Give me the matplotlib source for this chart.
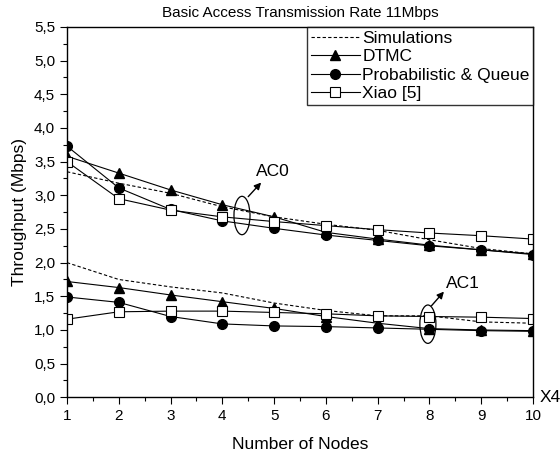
import matplotlib
matplotlib.use("Agg")
import matplotlib.pyplot as plt
from matplotlib.patches import Ellipse
from matplotlib.ticker import MultipleLocator, FuncFormatter

plt.rcParams['font.family'] = ['Liberation Sans', 'DejaVu Sans']

# ---- data ----
nodes = [1, 2, 3, 4, 5, 6, 7, 8, 9, 10]

# AC0
sim_ac0   = [3.35, 3.18, 3.03, 2.83, 2.68, 2.57, 2.48, 2.34, 2.21, 2.13]
dtmc_ac0  = [3.58, 3.33, 3.08, 2.86, 2.68, 2.45, 2.35, 2.26, 2.19, 2.13]
prob_ac0  = [3.73, 3.11, 2.79, 2.62, 2.51, 2.41, 2.33, 2.25, 2.19, 2.12]
xiao_ac0  = [3.50, 2.95, 2.78, 2.68, 2.61, 2.55, 2.49, 2.44, 2.40, 2.35]

# AC1
sim_ac1   = [2.00, 1.75, 1.64, 1.55, 1.40, 1.29, 1.21, 1.21, 1.12, 1.10]
dtmc_ac1  = [1.72, 1.63, 1.52, 1.42, 1.32, 1.20, 1.10, 1.02, 1.00, 0.99]
prob_ac1  = [1.49, 1.41, 1.20, 1.09, 1.06, 1.05, 1.03, 1.01, 0.99, 0.98]
xiao_ac1  = [1.16, 1.27, 1.28, 1.28, 1.26, 1.24, 1.21, 1.20, 1.19, 1.17]

fig = plt.figure(figsize=(5.6, 4.55), dpi=100)
ax = fig.add_axes([0.1196, 0.1268, 0.8322, 0.8139])

lw = 0.8
kw_sim  = dict(color='black', ls=(0, (3, 2)), lw=lw)
kw_dtmc = dict(color='black', lw=lw, marker='^', ms=7, mfc='black', mec='black')
kw_prob = dict(color='black', lw=lw, marker='o', ms=7, mfc='black', mec='black')
kw_xiao = dict(color='black', lw=lw, marker='s', ms=6.5, mfc='white', mec='black', mew=0.8)

ax.plot(nodes, sim_ac0, label='Simulations', **kw_sim)
ax.plot(nodes, dtmc_ac0, label='DTMC', **kw_dtmc)
ax.plot(nodes, prob_ac0, label='Probabilistic & Queue', **kw_prob)
ax.plot(nodes, xiao_ac0, label='Xiao [5]', **kw_xiao)

ax.plot(nodes, sim_ac1, **kw_sim)
ax.plot(nodes, dtmc_ac1, **kw_dtmc)
ax.plot(nodes, prob_ac1, **kw_prob)
ax.plot(nodes, xiao_ac1, **kw_xiao)

# ellipses + arrows + labels marking the two access categories
marks = [((4.38, 2.70), (4.50, 2.98), (4.75, 3.19), (4.98, 3.35), 'AC0'),
         ((7.97, 1.086), (8.04, 1.36), (8.28, 1.57), (8.64, 1.69), 'AC1')]
for (cx, cy), (tx, ty), (hx, hy), (lx, ly), lab in marks:
    ax.add_patch(Ellipse((cx, cy), 0.31, 0.57, fill=False, ec='black', lw=0.9, zorder=5))
    ax.annotate('', xy=(hx, hy), xytext=(tx, ty),
                arrowprops=dict(arrowstyle='-|>', color='black', lw=1.0,
                                mutation_scale=10, shrinkA=0, shrinkB=0))
    ax.text(lx, ly, lab, fontsize=12.5, ha='center', va='center')

ax.set_xlim(1, 10)
ax.set_ylim(0, 5.5)
ax.xaxis.set_major_locator(MultipleLocator(1))
ax.xaxis.set_minor_locator(MultipleLocator(0.5))
ax.yaxis.set_major_locator(MultipleLocator(0.5))
ax.yaxis.set_minor_locator(MultipleLocator(0.25))
ax.yaxis.set_major_formatter(FuncFormatter(lambda v, p: f"{v:.1f}".replace('.', ',')))
ax.tick_params(which='major', direction='out', length=5, width=0.8, labelsize=11)
ax.tick_params(which='minor', direction='out', length=3, width=0.8)
for sp in ax.spines.values():
    sp.set_linewidth(1.0)

ax.set_xlabel('Number of Nodes', fontsize=12.5, labelpad=10)
ax.set_ylabel('Throughput (Mbps)', fontsize=12.5, labelpad=5)
ax.set_title('Basic Access Transmission Rate 11Mbps', fontsize=11, pad=7)
ax.text(1.014, 0.0, 'X4', transform=ax.transAxes, fontsize=12.5, ha='left', va='center')

leg = ax.legend(loc='upper right', fontsize=12.5, frameon=True, fancybox=False,
                edgecolor='black', borderaxespad=0, handlelength=2.8,
                handletextpad=0.15, labelspacing=0.2, borderpad=0.2)
leg.get_frame().set_linewidth(1.0)

plt.savefig('out.png', dpi=100)
